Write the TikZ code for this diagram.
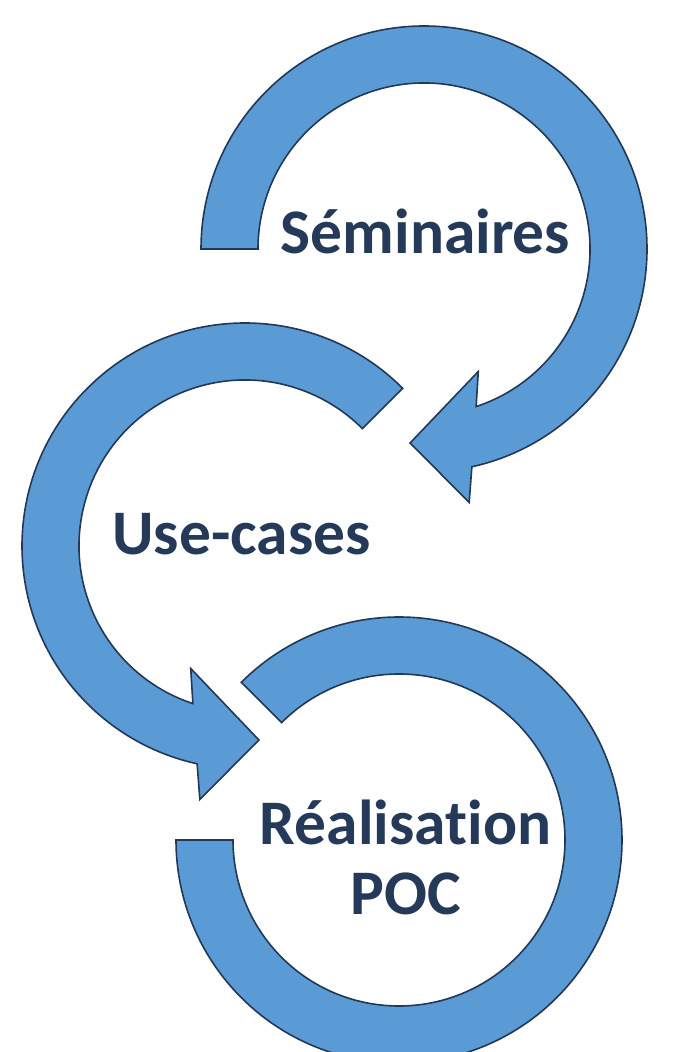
\documentclass[tikz,border=0pt]{standalone}
\usepackage{fontspec}
\setmainfont{Carlito}[Ligatures=NoCommon]
\definecolor{bandfill}{RGB}{91,155,213}
\definecolor{bandline}{RGB}{34,56,86}
\definecolor{labeltext}{RGB}{36,58,88}
\begin{document}
\begin{tikzpicture}[x=1pt,y=1pt,
  band/.style={fill=bandfill,draw=bandline,line width=1.6pt,line join=miter},
  lbl/.style={text=labeltext,font=\fontsize{63.5}{70}\selectfont\bfseries,inner sep=0pt,anchor=base,align=center}]
\useasboundingbox (0,0) rectangle (691,1052);
\clip (0,0) rectangle (691,1052);
% arrow 1 : Seminaires
\draw[band,shift={(424,803)}] (180:223) arc[start angle=180,end angle=-77.6,radius=223]
  -- (-79.9:257.5) -- (-94.1:194.5) -- (-66.1:134) -- (-71.7:166)
  arc[start angle=-71.7,end angle=180,radius=166] -- cycle;
% arrow 2 : Use-cases
\draw[band,shift={(245,506)}] (45:223) arc[start angle=45,end angle=257.6,radius=223]
  -- (259.9:257.5) -- (274.1:194.5) -- (246.1:134) -- (251.7:166)
  arc[start angle=251.7,end angle=45,radius=166] -- cycle;
% ring 3 : Realisation POC
\draw[band,shift={(399,212)}] (180:223) arc[start angle=180,end angle=495,radius=223]
  -- (135:166) arc[start angle=135,end angle=-180,radius=166] -- cycle;
\node[lbl] (sem) at (425.5,798) {Séminaires};
\node[lbl] (use) at (241.5,497) {Use-cases};
\node[lbl] (poc) at (405.5,137) {Réalisation\\POC};
\end{tikzpicture}
\end{document}
